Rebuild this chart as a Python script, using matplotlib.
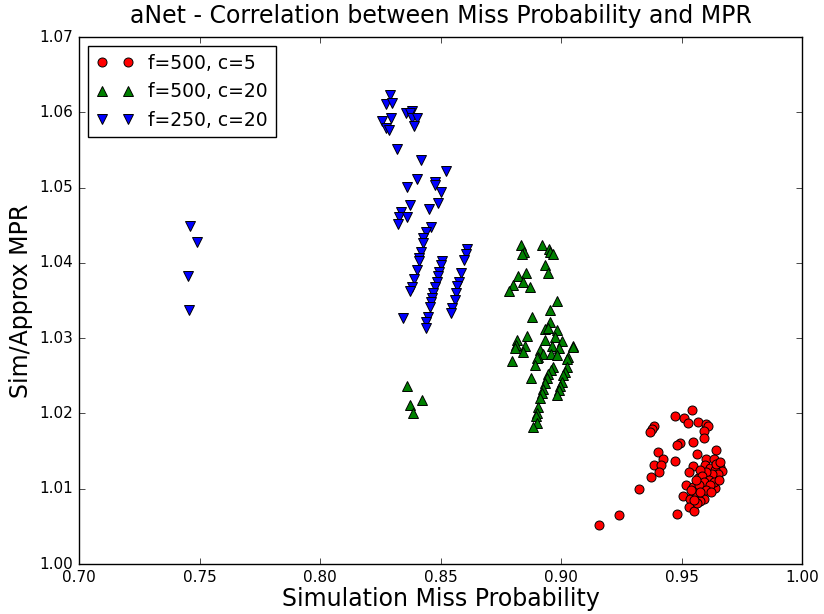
import matplotlib
matplotlib.use("Agg")
import matplotlib.pyplot as plt
from matplotlib.ticker import FormatStrFormatter, MultipleLocator

plt.style.use('classic')

# f=500, c=5 (red circles)
red_x = [0.9545, 0.9473, 0.9512, 0.9528, 0.9570, 0.9602, 0.9611, 0.9593, 0.9386, 0.9376,
         0.9369, 0.9593, 0.9494, 0.9480, 0.9549, 0.9643, 0.9401, 0.9563, 0.9422, 0.9473,
         0.9602, 0.9636, 0.9386, 0.9415, 0.9549, 0.9660, 0.9407, 0.9532, 0.9667, 0.9373,
         0.9570, 0.9611, 0.9646, 0.9517, 0.9549, 0.9629, 0.9322, 0.9598, 0.9639, 0.9505,
         0.9549, 0.9593, 0.9535, 0.9577, 0.9532, 0.9552, 0.9242, 0.9481, 0.9159,
         0.9598, 0.9618, 0.9639, 0.9651, 0.9627, 0.9602, 0.9577, 0.9585, 0.9614, 0.9635,
         0.9656, 0.9593, 0.9573, 0.9618, 0.9602, 0.9622, 0.9577, 0.9560, 0.9540, 0.9643,
         0.9660, 0.9564, 0.9552]
red_y = [1.0205, 1.0197, 1.0194, 1.0187, 1.0188, 1.0186, 1.0183, 1.0177, 1.0183, 1.0179,
         1.0176, 1.0167, 1.0161, 1.0158, 1.0162, 1.0151, 1.0149, 1.0146, 1.0140, 1.0137,
         1.0139, 1.0139, 1.0132, 1.0132, 1.0130, 1.0129, 1.0122, 1.0122, 1.0124, 1.0115,
         1.0114, 1.0116, 1.0114, 1.0105, 1.0102, 1.0104, 1.0100, 1.0101, 1.0101, 1.0090,
         1.0092, 1.0087, 1.0086, 1.0084, 1.0076, 1.0071, 1.0065, 1.0066, 1.0052,
         1.0132, 1.0128, 1.0125, 1.0120, 1.0120, 1.0122, 1.0125, 1.0117, 1.0112, 1.0109,
         1.0112, 1.0109, 1.0105, 1.0105, 1.0098, 1.0096, 1.0096, 1.0112, 1.0098, 1.0133,
         1.0135, 1.0081, 1.0085]

# f=500, c=20 (green up-triangles)
green_x = [0.8834, 0.8920, 0.8848, 0.8837, 0.8950, 0.8954, 0.8968, 0.8934, 0.8947, 0.8854,
           0.8820, 0.8841, 0.8802, 0.8871, 0.8785, 0.8982, 0.8954, 0.8881, 0.8954, 0.8934,
           0.8947, 0.8982, 0.8860, 0.8819, 0.8934, 0.8976, 0.9003, 0.8813, 0.8851, 0.8961,
           0.8993, 0.9049, 0.9051, 0.8809, 0.8841, 0.8913, 0.8924, 0.8959, 0.8982, 0.8906,
           0.8899, 0.9030, 0.9026, 0.8795, 0.8892, 0.8966, 0.9026, 0.8957, 0.9017, 0.8947,
           0.9010, 0.8940, 0.8874, 0.9003, 0.8934, 0.8996, 0.8927, 0.8990, 0.8920, 0.8982,
           0.8913, 0.8906, 0.8899, 0.8896, 0.8902, 0.8885,
           0.8360, 0.8422, 0.8373, 0.8387]
green_y = [1.0424, 1.0424, 1.0415, 1.0412, 1.0418, 1.0414, 1.0412, 1.0397, 1.0387, 1.0387,
           1.0383, 1.0375, 1.0371, 1.0368, 1.0363, 1.0349, 1.0337, 1.0328, 1.0322, 1.0312,
           1.0313, 1.0311, 1.0303, 1.0298, 1.0298, 1.0301, 1.0296, 1.0291, 1.0289, 1.0290,
           1.0287, 1.0290, 1.0288, 1.0287, 1.0281, 1.0284, 1.0279, 1.0279, 1.0278, 1.0275,
           1.0273, 1.0275, 1.0272, 1.0270, 1.0264, 1.0262, 1.0262, 1.0258, 1.0255, 1.0253,
           1.0251, 1.0247, 1.0247, 1.0242, 1.0240, 1.0236, 1.0233, 1.0231, 1.0227, 1.0224,
           1.0220, 1.0209, 1.0201, 1.0196, 1.0187, 1.0182,
           1.0236, 1.0218, 1.0211, 1.0200]

# f=250, c=20 (blue down-triangles)
blue_x = [0.8290, 0.8274, 0.8299, 0.8296, 0.8256, 0.8274, 0.8288, 0.8357, 0.8383, 0.8373,
          0.8380, 0.8404, 0.8391, 0.8318, 0.8419, 0.8522, 0.8401, 0.8362, 0.8478, 0.8476,
          0.8501, 0.8373, 0.8490, 0.8452, 0.8335, 0.8329, 0.8360, 0.8322, 0.8459, 0.8439,
          0.8429, 0.8426, 0.8611, 0.8605, 0.8418, 0.8598, 0.8412, 0.8410, 0.8506, 0.8501,
          0.8401, 0.8495, 0.8584, 0.8491, 0.8390, 0.8578, 0.8484, 0.8380, 0.8570, 0.8478,
          0.8373, 0.8470, 0.8564, 0.8465, 0.8560, 0.8459, 0.8456, 0.8548, 0.8542, 0.8346,
          0.8447, 0.8440, 0.8440,
          0.7461, 0.7488, 0.7454, 0.7458]
blue_y = [1.0623, 1.0611, 1.0612, 1.0593, 1.0588, 1.0579, 1.0577, 1.0599, 1.0602, 1.0599,
          1.0592, 1.0592, 1.0582, 1.0551, 1.0537, 1.0522, 1.0512, 1.0501, 1.0508, 1.0503,
          1.0494, 1.0477, 1.0479, 1.0472, 1.0467, 1.0461, 1.0461, 1.0451, 1.0448, 1.0441,
          1.0433, 1.0426, 1.0418, 1.0412, 1.0414, 1.0404, 1.0406, 1.0402, 1.0402, 1.0397,
          1.0391, 1.0388, 1.0387, 1.0382, 1.0379, 1.0375, 1.0375, 1.0368, 1.0369, 1.0368,
          1.0362, 1.0360, 1.0360, 1.0354, 1.0351, 1.0348, 1.0342, 1.0340, 1.0333, 1.0327,
          1.0328, 1.0322, 1.0314,
          1.0449, 1.0428, 1.0382, 1.0338]

series_labels = ['f=500, c=5', 'f=500, c=20', 'f=250, c=20']
title = 'aNet - Correlation between Miss Probability and MPR'
xlabel = 'Simulation Miss Probability'
ylabel = 'Sim/Approx MPR'

fig = plt.figure(figsize=(8.24, 6.14), dpi=100, facecolor='white')
ax = fig.add_axes([0.0959, 0.0814, 0.8774, 0.8583])

style = dict(markeredgecolor='black', markersize=6.5, markeredgewidth=0.7)
ax.plot(red_x, red_y, 'o', color='red', label=series_labels[0], **style)
ax.plot(green_x, green_y, '^', color='green', label=series_labels[1], **style)
ax.plot(blue_x, blue_y, 'v', color='blue', label=series_labels[2], **style)

ax.set_xlim(0.70, 1.00)
ax.set_ylim(1.00, 1.07)
ax.xaxis.set_major_locator(MultipleLocator(0.05))
ax.yaxis.set_major_locator(MultipleLocator(0.01))
ax.xaxis.set_major_formatter(FormatStrFormatter('%.2f'))
ax.yaxis.set_major_formatter(FormatStrFormatter('%.2f'))
ax.tick_params(labelsize=11)

ax.set_title(title, fontsize=17, pad=10)
ax.set_xlabel(xlabel, fontsize=17, labelpad=2)
ax.set_ylabel(ylabel, fontsize=17)

ax.legend(loc='upper left', numpoints=2, fontsize=13.5, frameon=True)

fig.savefig('out.png', dpi=100, facecolor='white')
